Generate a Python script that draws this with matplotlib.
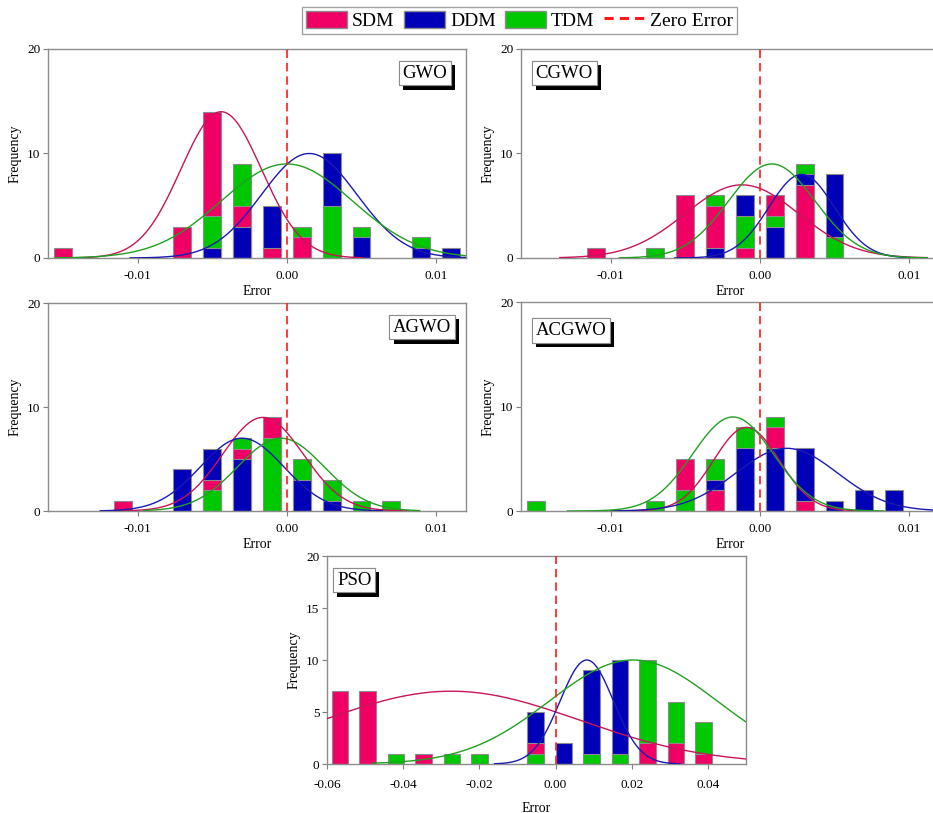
import matplotlib
matplotlib.use("Agg")
import matplotlib.pyplot as plt
import matplotlib.patheffects as pe
import matplotlib.ticker as ticker
from matplotlib.lines import Line2D
from matplotlib.patches import Patch
import numpy as np

plt.rcParams["font.family"] = ["Liberation Serif", "DejaVu Serif"]

SERIES = ["SDM", "DDM", "TDM"]
BAR_COLORS = {"SDM": "#f00064", "DDM": "#0000b8", "TDM": "#00c800"}
CURVE_COLORS = {"SDM": "#c8145a", "DDM": "#1a1ab0", "TDM": "#20a020"}

# GWO histogram (bin centers and counts)
GWO_BINS = [-0.015, -0.007, -0.005, -0.003, -0.001, 0.001, 0.003, 0.005, 0.009, 0.011]
GWO_SDM = [1, 3, 14, 5, 1, 2, 0, 0, 0, 0]
GWO_DDM = [0, 0, 1, 3, 5, 0, 10, 2, 1, 1]
GWO_TDM = [0, 0, 4, 9, 0, 3, 5, 3, 2, 0]

# CGWO
CGWO_BINS = [-0.011, -0.007, -0.005, -0.003, -0.001, 0.001, 0.003, 0.005]
CGWO_SDM = [1, 0, 6, 5, 1, 6, 7, 0]
CGWO_DDM = [0, 0, 0, 1, 6, 3, 8, 8]
CGWO_TDM = [0, 1, 0, 6, 4, 4, 9, 2]

# AGWO
AGWO_BINS = [-0.011, -0.007, -0.005, -0.003, -0.001, 0.001, 0.003, 0.005, 0.007]
AGWO_SDM = [1, 0, 3, 6, 9, 0, 0, 0, 0]
AGWO_DDM = [0, 4, 6, 5, 0, 3, 1, 0, 0]
AGWO_TDM = [0, 0, 2, 7, 7, 5, 3, 1, 1]

# ACGWO
ACGWO_BINS = [-0.015, -0.007, -0.005, -0.003, -0.001, 0.001, 0.003, 0.005, 0.007, 0.009]
ACGWO_SDM = [0, 0, 5, 2, 0, 8, 1, 0, 0, 0]
ACGWO_DDM = [0, 0, 0, 3, 6, 6, 6, 1, 2, 2]
ACGWO_TDM = [1, 1, 2, 5, 8, 9, 0, 0, 0, 0]

# PSO
PSO_BINS = [-0.0566, -0.0493, -0.0419, -0.0346, -0.0272, -0.0199, -0.0052,
            0.0022, 0.0095, 0.0169, 0.0242, 0.0316, 0.0389]
PSO_SDM = [7, 7, 0, 1, 0, 0, 2, 0, 0, 0, 2, 2, 1]
PSO_DDM = [0, 0, 0, 0, 0, 0, 5, 2, 9, 10, 0, 0, 0]
PSO_TDM = [0, 0, 1, 0, 1, 1, 1, 0, 1, 1, 10, 6, 4]

# fitted normal curves: (mean, sigma, peak, x from, x to)
GWO_FIT = {"SDM": (-0.0044, 0.0027, 14, -0.0145, 0.0051),
           "DDM": (0.0015, 0.0032, 10, -0.0105, 0.012),
           "TDM": (0.0, 0.0044, 9, -0.0155, 0.012)}
CGWO_FIT = {"SDM": (-0.0012, 0.0038, 7, -0.0134, 0.0112),
            "DDM": (0.0028, 0.0022, 8, -0.0057, 0.0112),
            "TDM": (0.0008, 0.0029, 9, -0.0094, 0.0112)}
AGWO_FIT = {"SDM": (-0.0016, 0.0027, 9, -0.0123, 0.0082),
            "DDM": (-0.003, 0.0028, 7, -0.0125, 0.0064),
            "TDM": (-0.0004, 0.0029, 7, -0.0096, 0.0089)}
ACGWO_FIT = {"SDM": (-0.0009, 0.0022, 8, -0.010, 0.0065),
             "DDM": (0.0018, 0.0034, 6, -0.010, 0.012),
             "TDM": (-0.0018, 0.0027, 9, -0.0129, 0.0083)}
PSO_FIT = {"SDM": (-0.0274, 0.0335, 7, -0.06, 0.05),
           "DDM": (0.0082, 0.007, 10, -0.016, 0.0327),
           "TDM": (0.0204, 0.022, 10, -0.048, 0.05)}


fig = plt.figure(figsize=(9.33, 8.13), dpi=100)

W, H = 933, 813


def rect(x0, y0, x1, y1):
    # pixel box -> figure fraction
    return [x0 / W, 1 - y1 / H, (x1 - x0) / W, (y1 - y0) / H]


panels = [
    # name, bins, counts, fits, axes box, xlim, label position
    ("GWO", GWO_BINS, {"SDM": GWO_SDM, "DDM": GWO_DDM, "TDM": GWO_TDM}, GWO_FIT,
     rect(48, 49, 466, 258), (-0.016, 0.012), "right"),
    ("CGWO", CGWO_BINS, {"SDM": CGWO_SDM, "DDM": CGWO_DDM, "TDM": CGWO_TDM}, CGWO_FIT,
     rect(521, 49, 939, 258), (-0.016, 0.012), "left"),
    ("AGWO", AGWO_BINS, {"SDM": AGWO_SDM, "DDM": AGWO_DDM, "TDM": AGWO_TDM}, AGWO_FIT,
     rect(48, 303, 466, 511), (-0.016, 0.012), "right"),
    ("ACGWO", ACGWO_BINS, {"SDM": ACGWO_SDM, "DDM": ACGWO_DDM, "TDM": ACGWO_TDM}, ACGWO_FIT,
     rect(521, 302, 939, 511), (-0.016, 0.012), "left"),
    ("PSO", PSO_BINS, {"SDM": PSO_SDM, "DDM": PSO_DDM, "TDM": PSO_TDM}, PSO_FIT,
     rect(327, 556, 746, 764), (-0.06, 0.05), "left"),
]

for name, bins, counts, fits, box, xlim, corner in panels:
    ax = fig.add_axes(box)
    small = name != "PSO"
    bw = 0.0012 if small else 0.0044

    # overlapping bars: tallest behind, shortest in front
    for i, x in enumerate(bins):
        order = sorted(SERIES, key=lambda s: -counts[s][i])
        for s in order:
            h = counts[s][i]
            if h > 0:
                ax.bar(x, h, width=bw, color=BAR_COLORS[s], edgecolor="#8c8c8c",
                       linewidth=0.8, zorder=2)

    # normal fit curves
    for s in SERIES:
        mu, sd, peak, x0, x1 = fits[s]
        xs = np.linspace(x0, x1, 300)
        ax.plot(xs, peak * np.exp(-0.5 * ((xs - mu) / sd) ** 2),
                color=CURVE_COLORS[s], lw=1.0, zorder=3)

    ax.axvline(0, color="#ff1a1a", ls=(0, (5, 3)), lw=1.2, zorder=4)

    ax.set_xlim(*xlim)
    ax.set_ylim(0, 20)
    if small:
        ax.set_xticks([-0.01, 0.0, 0.01])
        ax.set_yticks([0, 10, 20])
    else:
        ax.set_xticks([-0.06, -0.04, -0.02, 0.0, 0.02, 0.04])
        ax.set_yticks([0, 5, 10, 15, 20])
    ax.xaxis.set_major_formatter(ticker.FormatStrFormatter("%.2f"))
    ax.yaxis.set_major_formatter(ticker.FormatStrFormatter("%d"))
    ax.tick_params(direction="out", length=3.5, width=0.8, color="#7f7f7f",
                   labelsize=9.5, pad=2)
    ax.tick_params(axis="x", pad=5 if small else 7)
    for sp in ax.spines.values():
        sp.set_color("#8c8c8c")
        sp.set_linewidth(1.0)
    ax.set_xlabel("Error", fontsize=10, labelpad=2 if small else 8)
    ax.set_ylabel("Frequency", fontsize=10, labelpad=4)

    # method label with drop shadow
    if corner == "right":
        tx, ha = (0.955 if name == "GWO" else 0.965), "right"
    else:
        tx, ha = (0.035 if small else 0.024), "left"
    ty = 0.925 if name != "ACGWO" else 0.905
    t = ax.text(tx, ty, name, transform=ax.transAxes, ha=ha, va="top", fontsize=13.5,
                zorder=6,
                bbox=dict(boxstyle="square,pad=0.2", fc="white", ec="#8c8c8c", lw=0.8))
    t.get_bbox_patch().set_path_effects(
        [pe.withSimplePatchShadow(offset=(3, -3), shadow_rgbFace="black", alpha=1.0),
         pe.Normal()])

handles = [
    Patch(facecolor=BAR_COLORS["SDM"], edgecolor="#8c8c8c", label="SDM"),
    Patch(facecolor=BAR_COLORS["DDM"], edgecolor="#8c8c8c", label="DDM"),
    Patch(facecolor=BAR_COLORS["TDM"], edgecolor="#8c8c8c", label="TDM"),
    Line2D([], [], color="#ff1a1a", ls=(0, (3, 2)), lw=2.2, label="Zero Error"),
]
leg = fig.legend(handles=handles, loc="center", bbox_to_anchor=(0.557, 0.975), ncol=4,
                 fontsize=14, frameon=True, fancybox=False, handlelength=2.1,
                 handleheight=1.0, handletextpad=0.25, columnspacing=0.5,
                 borderpad=0.2)
leg.get_frame().set_edgecolor("#8c8c8c")
leg.get_frame().set_linewidth(1.0)

fig.savefig("out.png", dpi=100)
